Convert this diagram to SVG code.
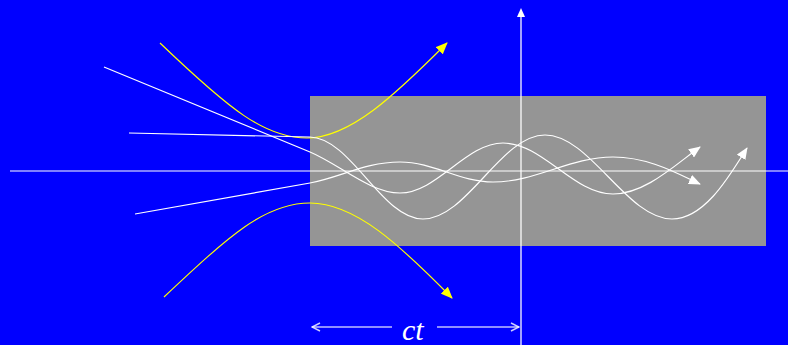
<svg xmlns="http://www.w3.org/2000/svg" width="788" height="345" viewBox="0 0 788 345">
<style>
.w{fill:none;stroke:#fff;stroke-width:1.2}
.y{fill:none;stroke:#ff0;stroke-width:1.2}
.ct{fill:none;stroke:#fff;stroke-opacity:0.75;stroke-width:1.5}
</style>
<defs>
<marker id="aw" viewBox="0 0 12 10" refX="11" refY="5" markerWidth="12" markerHeight="10" markerUnits="userSpaceOnUse" orient="auto"><path d="M0,0 L12,5 L0,10 Z" fill="#fff"/></marker>
<marker id="ay" viewBox="0 0 12 10" refX="11" refY="5" markerWidth="12" markerHeight="10" markerUnits="userSpaceOnUse" orient="auto"><path d="M0,0 L12,5 L0,10 Z" fill="#ff0"/></marker>
<marker id="ao" viewBox="0 0 10 10" refX="9" refY="5" markerWidth="10" markerHeight="10" markerUnits="userSpaceOnUse" orient="auto"><path d="M1,1 L9,5 L1,9" fill="none" stroke="#fff" stroke-opacity="0.8" stroke-width="1.5"/></marker>
</defs>
<rect width="788" height="345" fill="#0000ff"/>
<g id="region"><rect x="310" y="96" width="456" height="150" fill="#959595"/></g>
<g id="axes">
<line x1="10" y1="171" x2="788" y2="171" class="w"/>
<line x1="521" y1="345" x2="521" y2="14" stroke="#fff" stroke-opacity="0.75" stroke-width="1.7"/>
<path d="M521,8 L525,17 L517,17 Z" fill="#fff"/>
</g>
<g id="connectors">
<path class="y" d="M160,43 C230,110 265,138 307,138 C350,138 395,95 447,43" marker-end="url(#ay)"/>
<path class="y" d="M164,297 C230,235 265,203 310,203 C355,203 400,245 452,298" marker-end="url(#ay)"/>
<path class="w" d="M129,133 L310,137 C351,138 382,219 423,219 C467,219 501,135 545,135 C590,135 627,219 672,219 C705,219 730,175 747,148" marker-end="url(#aw)"/>
<path class="w" d="M104,67 L310,152 C340,164.6 370,193 400,193 C437,193 466,143 503,143 C543,143 573,194 613,194 C645,194 675,165 700,147" marker-end="url(#aw)"/>
<path class="w" d="M135,214 L310,183 C340,177.7 365,162 400,162 C434,162 459,182 493,182 C536,182 570,157 613,157 C650,157 680,175 700,184" marker-end="url(#aw)"/>
<line class="ct" x1="392" y1="327" x2="312" y2="327" marker-end="url(#ao)"/>
<line class="ct" x1="437" y1="327" x2="519" y2="327" marker-end="url(#ao)"/>
</g>
<g id="label"><text x="402" y="340" font-family="Liberation Serif, serif" font-style="italic" font-size="30" fill="#fff">ct</text></g>
</svg>
